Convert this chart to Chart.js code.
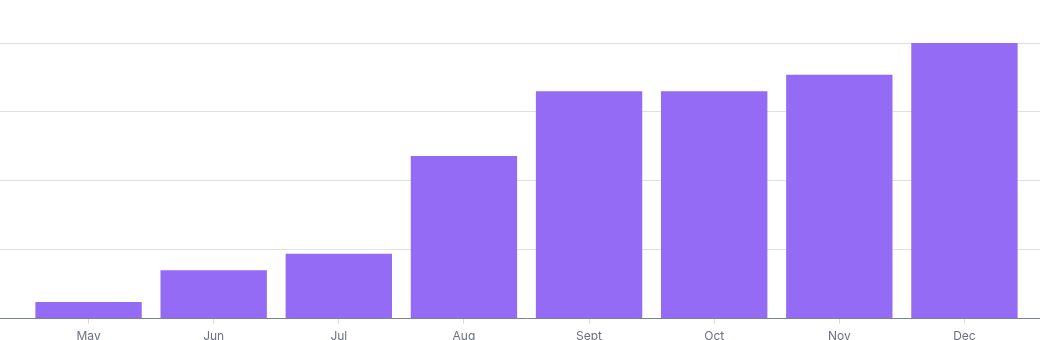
<!DOCTYPE html>
<html>
<head>
<meta charset="utf-8">
<script src="https://cdn.jsdelivr.net/npm/chart.js@4"></script>
<style>
  html, body { margin: 0; padding: 0; background: #fff; overflow: hidden; }
  #wrap { width: 1040px; height: 340px; overflow: hidden; }
</style>
</head>
<body>
<div id="wrap"><canvas id="chart" width="1040" height="350"></canvas></div>
<script>
const months = ['May', 'Jun', 'Jul', 'Aug', 'Sept', 'Oct', 'Nov', 'Dec'];
const values = [24, 70, 94, 236, 330, 330, 354, 400];
const yMax = 400;
const yStep = 100;

const barColor = '#936bf5';
const gridColor = '#e0e0e3';
const baseColor = '#7b8494';

const chart = new Chart(
    document.getElementById('chart'),
    {
        type: 'bar',
        data: {
            labels: months,
            datasets: [
                {
                    label: 'Value',
                    data: values,
                    backgroundColor: barColor,
                    borderWidth: 0,
                    categoryPercentage: 1,
                    barPercentage: 0.85
                }
            ]
        },
        options: {
            responsive: false,
            animation: false,
            layout: {
                padding: { top: 43, left: 0, right: 0, bottom: 0 }
            },
            plugins: {
                legend: { display: false },
                tooltip: { enabled: false }
            },
            scales: {
                x: {
                    offset: true,
                    border: { display: false },
                    grid: {
                        offset: false,
                        drawOnChartArea: false,
                        tickLength: 5,
                        color: '#dcd9e6'
                    },
                    ticks: {
                        padding: 6,
                        color: '#6b7080',
                        font: { family: 'Inter', size: 12 }
                    }
                },
                y: {
                    min: 0,
                    max: yMax,
                    border: { display: false },
                    grid: {
                        tickLength: 26,
                        color: function (ctx) {
                            return ctx.tick && ctx.tick.value === 0 ? baseColor : gridColor;
                        }
                    },
                    ticks: { display: false, stepSize: yStep }
                },
                y2: {
                    position: 'right',
                    min: 0,
                    max: yMax,
                    border: { display: false },
                    grid: {
                        drawOnChartArea: false,
                        tickLength: 13,
                        color: function (ctx) {
                            return ctx.tick && ctx.tick.value === 0 ? baseColor : gridColor;
                        }
                    },
                    ticks: { display: false, stepSize: yStep }
                }
            }
        }
    }
);
</script>
</body>
</html>
